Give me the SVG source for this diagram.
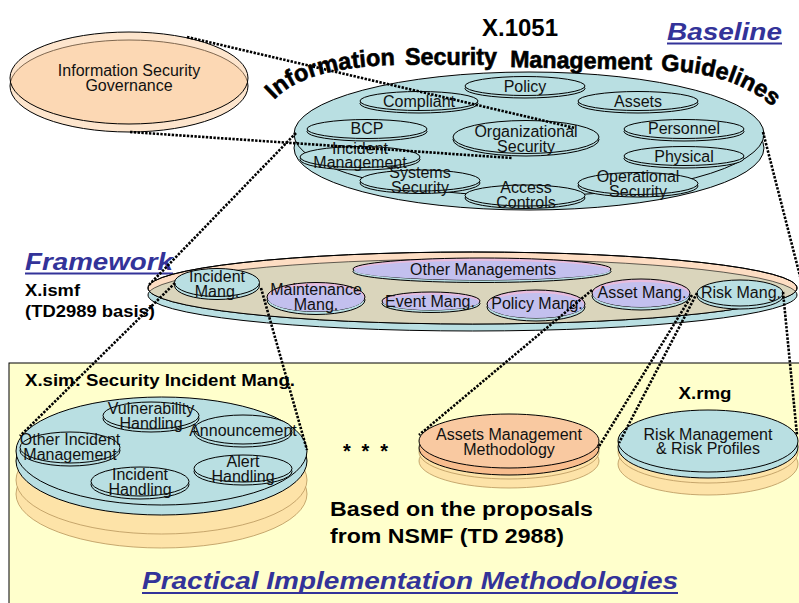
<svg xmlns="http://www.w3.org/2000/svg" width="799" height="603" viewBox="0 0 799 603">
  <defs>
    <style>
      .lbl { font-family: "Liberation Sans", Arial, sans-serif; font-size: 16px; text-anchor: middle; fill: #111; }
      .bold { font-family: "Liberation Sans", Arial, sans-serif; font-weight: bold; fill: #000; }
      .arc { font-family: "Liberation Sans", Arial, sans-serif; font-weight: bold; font-size: 23.5px; fill: #000; stroke: #000; stroke-width: 0.6; }
      .head { font-family: "Liberation Sans", Arial, sans-serif; font-weight: bold; font-style: italic; font-size: 24px; fill: #333399; }
      .uline { stroke: #333399; stroke-width: 2; }
      .ol { stroke: #000; stroke-width: 1; }
      .blue { fill: #B9DFE2; }
      .lav { fill: #C3C0EE; }
      .pink { fill: #E8BCDD; }
      .peachT { fill: #FBCB9B; fill-opacity: 0.5; stroke: #000; stroke-width: 1; }
      .orange { fill: #FDE3A8; stroke: #B8965C; stroke-width: 0.8; }
      .conn { fill: none; stroke: #000; stroke-width: 2.6; stroke-dasharray: 2.4 1.4; }
    </style>
    <clipPath id="fwTop">
      <ellipse cx="472.5" cy="288" rx="324.5" ry="36"/>
    </clipPath>
    <path id="arcLeft" d="M 274,100 Q 306,66 402,65"/>
    <path id="arcRight" d="M 661,71 Q 730,71 772,106"/>
  </defs>

  <!-- Practical implementation area -->
  <rect x="9" y="363" width="800" height="250" fill="#FFFFCC" stroke="#000" stroke-width="1"/>

  <!-- Information Security Governance -->
  <g id="governance">
    <ellipse class="peachT" cx="129" cy="86" rx="119" ry="46"/>
    <ellipse class="peachT" cx="129" cy="78" rx="119" ry="46"/>
    <text class="lbl" x="129" y="76">Information Security</text>
    <text class="lbl" x="129" y="91">Governance</text>
  </g>

  <!-- X.1051 title, bent over the disc -->
  <g id="x1051-title">
    <text class="bold" x="520" y="36" font-size="23" text-anchor="middle" textLength="76" lengthAdjust="spacingAndGlyphs">X.1051</text>
    <text class="arc"><textPath href="#arcLeft">Information</textPath></text>
    <text class="arc" x="405" y="65" textLength="92" lengthAdjust="spacingAndGlyphs">Security</text>
    <text class="arc" x="510" y="67" textLength="142" lengthAdjust="spacingAndGlyphs" transform="rotate(1.2 510 67)">Management</text>
    <text class="arc"><textPath href="#arcRight">Guidelines</textPath></text>
  </g>

  <g id="baseline-heading">
    <text class="head" x="667" y="40" textLength="115" lengthAdjust="spacingAndGlyphs">Baseline</text>
    <line class="uline" x1="667" y1="43.5" x2="782" y2="43.5"/>
  </g>

  <!-- X.1051 baseline disc -->
  <g id="x1051">
    <ellipse class="blue ol" cx="529" cy="148" rx="235" ry="62"/>
    <ellipse class="blue ol" cx="529" cy="134" rx="235" ry="62"/>
  </g>
  <g id="policy">
    <ellipse class="blue ol" cx="525" cy="88.5" rx="60" ry="9.5"/>
    <ellipse class="blue ol" cx="525" cy="86" rx="60" ry="9.5"/>
    <text class="lbl" x="525" y="92">Policy</text>
  </g>
  <g id="compliant">
    <ellipse class="blue ol" cx="419" cy="103.5" rx="59" ry="9.5"/>
    <ellipse class="blue ol" cx="419" cy="101" rx="59" ry="9.5"/>
    <text class="lbl" x="419" y="107">Compliant</text>
  </g>
  <g id="assets">
    <ellipse class="blue ol" cx="638" cy="103.5" rx="60" ry="9.5"/>
    <ellipse class="blue ol" cx="638" cy="101" rx="60" ry="9.5"/>
    <text class="lbl" x="638" y="107">Assets</text>
  </g>
  <g id="bcp">
    <ellipse class="blue ol" cx="367" cy="131.5" rx="60" ry="9.5"/>
    <ellipse class="blue ol" cx="367" cy="129" rx="60" ry="9.5"/>
    <text class="lbl" x="367" y="134">BCP</text>
  </g>
  <g id="organizational-security">
    <ellipse class="blue ol" cx="526" cy="139.5" rx="73" ry="16.5"/>
    <ellipse class="blue ol" cx="526" cy="137" rx="73" ry="16.5"/>
    <text class="lbl" x="526" y="137">Organizational</text>
    <text class="lbl" x="526" y="152">Security</text>
  </g>
  <g id="personnel">
    <ellipse class="blue ol" cx="684" cy="131.5" rx="60" ry="9.5"/>
    <ellipse class="blue ol" cx="684" cy="129" rx="60" ry="9.5"/>
    <text class="lbl" x="684" y="134">Personnel</text>
  </g>
  <g id="physical">
    <ellipse class="blue ol" cx="684" cy="158.5" rx="60" ry="9.5"/>
    <ellipse class="blue ol" cx="684" cy="156" rx="60" ry="9.5"/>
    <text class="lbl" x="684" y="162">Physical</text>
  </g>
  <g id="incident-management">
    <ellipse class="blue ol" cx="360" cy="159.5" rx="60" ry="10.5"/>
    <ellipse class="blue ol" cx="360" cy="157" rx="60" ry="10.5"/>
    <text class="lbl" x="360" y="154">Incident</text>
    <text class="lbl" x="360" y="168">Management</text>
  </g>
  <g id="systems-security">
    <ellipse class="blue ol" cx="420" cy="183" rx="60" ry="10.5"/>
    <ellipse class="blue ol" cx="420" cy="180.5" rx="60" ry="10.5"/>
    <text class="lbl" x="420" y="178">Systems</text>
    <text class="lbl" x="420" y="193">Security</text>
  </g>
  <g id="access-controls">
    <ellipse class="blue ol" cx="525" cy="198" rx="60" ry="10.5"/>
    <ellipse class="blue ol" cx="525" cy="195.5" rx="60" ry="10.5"/>
    <text class="lbl" x="526" y="193">Access</text>
    <text class="lbl" x="526" y="208">Controls</text>
  </g>
  <g id="operational-security">
    <ellipse class="blue ol" cx="638" cy="186" rx="60" ry="11"/>
    <ellipse class="blue ol" cx="638" cy="183.5" rx="60" ry="11"/>
    <text class="lbl" x="638" y="182">Operational</text>
    <text class="lbl" x="638" y="197">Security</text>
  </g>

  <!-- Framework heading -->
  <g id="framework-heading">
    <text class="head" x="25" y="270" textLength="148" lengthAdjust="spacingAndGlyphs">Framework</text>
    <line class="uline" x1="25" y1="273.5" x2="173" y2="273.5"/>
    <text class="bold" x="25" y="296" font-size="16.5" textLength="55" lengthAdjust="spacingAndGlyphs">X.ismf</text>
    <text class="bold" x="25" y="317" font-size="16.5" textLength="130" lengthAdjust="spacingAndGlyphs">(TD2989 basis)</text>
  </g>

  <!-- X.ismf framework disc -->
  <g id="framework">
    <ellipse class="blue ol" cx="472.5" cy="295" rx="324.5" ry="36"/>
    <ellipse fill="#FDDDC3" class="ol" cx="472.5" cy="288" rx="324.5" ry="36"/>
    <ellipse fill="#DAD5BC" cx="472.5" cy="295" rx="324.5" ry="36" clip-path="url(#fwTop)"/>
    <ellipse fill="none" stroke="#000" stroke-width="0.6" cx="472.5" cy="295" rx="324.5" ry="36" clip-path="url(#fwTop)"/>
    <ellipse fill="none" class="ol" cx="472.5" cy="288" rx="324.5" ry="36"/>
  </g>
  <g id="other-managements">
    <ellipse class="blue ol" cx="482" cy="271.5" rx="129" ry="11"/>
    <ellipse class="pink ol" cx="482" cy="269" rx="129" ry="11"/>
    <ellipse class="lav" cx="482" cy="270.3" rx="128" ry="9.6"/>
    <text class="lbl" x="483" y="275">Other Managements</text>
  </g>
  <g id="incident-mang">
    <ellipse class="blue ol" cx="217" cy="285.5" rx="42.5" ry="14"/>
    <ellipse class="blue ol" cx="217" cy="282.5" rx="42.5" ry="14"/>
    <text class="lbl" x="217" y="282">Incident</text>
    <text class="lbl" x="217" y="297">Mang.</text>
  </g>
  <g id="maintenance-mang">
    <ellipse class="blue ol" cx="316" cy="300" rx="49" ry="14.5"/>
    <ellipse class="pink ol" cx="316" cy="297" rx="49" ry="14.5"/>
    <ellipse class="lav" cx="316" cy="298.5" rx="48" ry="13"/>
    <text class="lbl" x="316" y="295">Maintenance</text>
    <text class="lbl" x="316" y="310">Mang.</text>
  </g>
  <g id="event-mang">
    <ellipse class="blue ol" cx="431" cy="303.5" rx="49" ry="9"/>
    <ellipse class="pink ol" cx="431" cy="301" rx="49" ry="9"/>
    <ellipse class="lav" cx="431" cy="302.2" rx="48" ry="7.8"/>
    <text class="lbl" x="430" y="307">Event Mang.</text>
  </g>
  <g id="policy-mang">
    <ellipse class="blue ol" cx="536" cy="307" rx="49" ry="14"/>
    <ellipse class="pink ol" cx="536" cy="304" rx="49" ry="14"/>
    <ellipse class="lav" cx="536" cy="305.5" rx="48" ry="12.5"/>
    <text class="lbl" x="537" y="309">Policy Mang.</text>
  </g>
  <g id="asset-mang">
    <ellipse class="blue ol" cx="641" cy="296" rx="49" ry="14"/>
    <ellipse class="pink ol" cx="641" cy="293" rx="49" ry="14"/>
    <ellipse class="lav" cx="641" cy="294.5" rx="48" ry="12.5"/>
    <text class="lbl" x="642" y="298">Asset Mang.</text>
  </g>
  <g id="risk-mang">
    <ellipse class="blue ol" cx="740" cy="296" rx="43" ry="13"/>
    <ellipse class="blue ol" cx="740" cy="293" rx="43" ry="13"/>
    <text class="lbl" x="741" y="298">Risk Mang.</text>
  </g>

  <!-- X.sim -->
  <text class="bold" x="25" y="386" font-size="17" textLength="270" lengthAdjust="spacingAndGlyphs">X.sim: Security Incident Mang.</text>
  <g id="xsim">
    <ellipse class="orange" cx="161.5" cy="494" rx="145.5" ry="54"/>
    <ellipse class="orange" cx="161.5" cy="480" rx="145.5" ry="54"/>
    <ellipse class="blue ol" cx="161.5" cy="461" rx="145.5" ry="54"/>
    <ellipse class="blue ol" cx="161.5" cy="451" rx="145.5" ry="54"/>
  </g>
  <g id="vulnerability-handling">
    <ellipse class="blue ol" cx="151" cy="418.5" rx="48" ry="13.5"/>
    <ellipse class="blue ol" cx="151" cy="415.5" rx="48" ry="13.5"/>
    <text class="lbl" x="151" y="414">Vulnerability</text>
    <text class="lbl" x="151" y="429">Handling</text>
  </g>
  <g id="announcement">
    <ellipse class="blue ol" cx="243" cy="432.5" rx="49" ry="14.5"/>
    <ellipse class="blue ol" cx="243" cy="429.5" rx="49" ry="14.5"/>
    <text class="lbl" x="243" y="436">Announcement</text>
  </g>
  <g id="other-incident-management">
    <ellipse class="blue ol" cx="70" cy="450.5" rx="50" ry="15.5"/>
    <ellipse class="blue ol" cx="70" cy="447.5" rx="50" ry="15.5"/>
    <text class="lbl" x="70" y="445">Other Incident</text>
    <text class="lbl" x="70" y="460">Management</text>
  </g>
  <g id="alert-handling">
    <ellipse class="blue ol" cx="243" cy="471.5" rx="49" ry="13.5"/>
    <ellipse class="blue ol" cx="243" cy="468.5" rx="49" ry="13.5"/>
    <text class="lbl" x="243" y="467">Alert</text>
    <text class="lbl" x="243" y="482">Handling</text>
  </g>
  <g id="incident-handling">
    <ellipse class="blue ol" cx="140" cy="484.5" rx="49" ry="14.5"/>
    <ellipse class="blue ol" cx="140" cy="481.5" rx="49" ry="14.5"/>
    <text class="lbl" x="140" y="480">Incident</text>
    <text class="lbl" x="140" y="495">Handling</text>
  </g>

  <text class="bold" x="343" y="458" font-size="20" textLength="45">* * *</text>

  <!-- Assets management methodology -->
  <g id="assets-methodology">
    <ellipse class="orange" cx="509" cy="461" rx="90" ry="27"/>
    <ellipse class="orange" cx="509" cy="452" rx="90" ry="27"/>
    <ellipse fill="#F8BD8E" class="ol" cx="509" cy="448" rx="90" ry="27"/>
    <ellipse fill="#F9C9A1" class="ol" cx="509" cy="441" rx="90" ry="27"/>
    <text class="lbl" x="509" y="440">Assets Management</text>
    <text class="lbl" x="509" y="455">Methodology</text>
  </g>

  <!-- X.rmg -->
  <text class="bold" x="705" y="399" font-size="17" text-anchor="middle" textLength="53" lengthAdjust="spacingAndGlyphs">X.rmg</text>
  <g id="risk-management">
    <ellipse class="orange" cx="708" cy="464" rx="90" ry="31"/>
    <ellipse class="orange" cx="708" cy="452" rx="90" ry="31"/>
    <ellipse class="blue ol" cx="708" cy="447" rx="90" ry="31"/>
    <ellipse class="blue ol" cx="708" cy="441" rx="90" ry="31"/>
    <text class="lbl" x="708" y="440">Risk Management</text>
    <text class="lbl" x="708" y="454">&amp; Risk Profiles</text>
  </g>

  <text class="bold" x="330" y="516" font-size="20" textLength="263" lengthAdjust="spacingAndGlyphs">Based on the proposals</text>
  <text class="bold" x="330" y="543" font-size="20" textLength="234" lengthAdjust="spacingAndGlyphs">from NSMF (TD 2988)</text>

  <g id="practical-heading">
    <text class="head" x="142" y="589" font-size="25" textLength="536" lengthAdjust="spacingAndGlyphs">Practical Implementation Methodologies</text>
    <line class="uline" x1="142" y1="593" x2="678" y2="593"/>
  </g>

  <!-- dotted mapping lines between layers -->
  <g id="connectors">
    <line class="conn" x1="187" y1="37" x2="575" y2="128"/>
    <line class="conn" x1="130" y1="132" x2="512" y2="158"/>
    <line class="conn" x1="296" y1="133" x2="148" y2="286"/>
    <line class="conn" x1="763" y1="132" x2="801" y2="280"/>
    <line class="conn" x1="175" y1="283" x2="20" y2="436"/>
    <line class="conn" x1="261" y1="288" x2="307" y2="450"/>
    <line class="conn" x1="592" y1="290" x2="419" y2="435"/>
    <line class="conn" x1="692" y1="295" x2="598" y2="448"/>
    <line class="conn" x1="697" y1="293" x2="619" y2="443"/>
    <line class="conn" x1="783" y1="292" x2="797" y2="435"/>
  </g>
</svg>
